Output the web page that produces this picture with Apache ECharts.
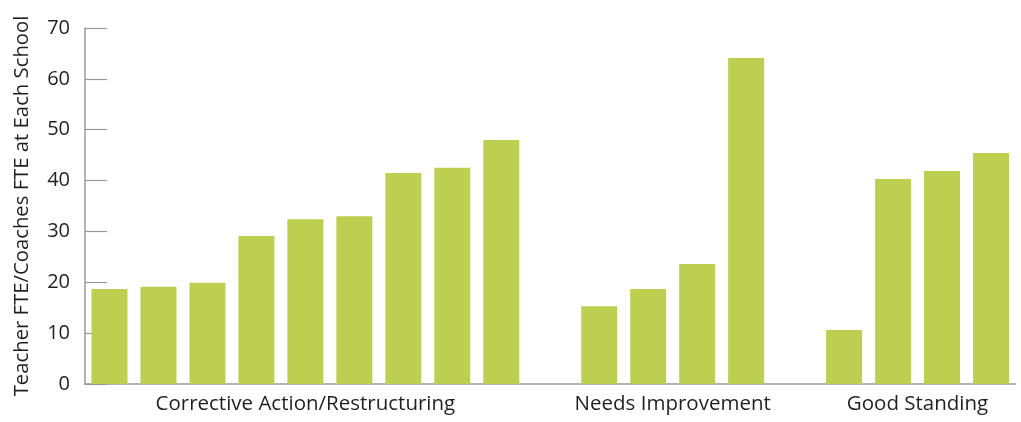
<!DOCTYPE html>
<html>
<head>
<meta charset="utf-8">
<script src="https://cdn.jsdelivr.net/npm/echarts@6/dist/echarts.min.js"></script>
<style>html,body{margin:0;padding:0;background:#fff}#chart{width:1021px;height:422px}</style>
</head>
<body>
<div id="chart"></div>
<script>
const groupLabels = ['Corrective Action/Restructuring', 'Needs Improvement', 'Good Standing'];
const correctiveValues = [18.7, 19.1, 19.9, 29.1, 32.4, 33.0, 41.5, 42.5, 48.0];
const needsValues = [15.3, 18.7, 23.6, 64.1];
const goodValues = [10.6, 40.3, 41.9, 45.4];
const yTicks = [0, 10, 20, 30, 40, 50, 60, 70];
const yTitle = 'Teacher FTE/Coaches FTE at Each School';

const groups = [correctiveValues, needsValues, goodValues];
const slots = [];
const values = [];
const centers = [];
groups.forEach((g, gi) => {
  if (gi > 0) { slots.push('gap' + gi); values.push('-'); }
  const start = slots.length;
  g.forEach((v, i) => { slots.push(groupLabels[gi] + ' ' + (i + 1)); values.push(v); });
  centers.push(start + g.length / 2);
});

const font = '"Open Sans", Lato, sans-serif';
const chart = echarts.init(document.getElementById('chart'));
chart.setOption({
  animation: false,
  grid: { left: 85, right: 5.5, top: 28, bottom: 38, containLabel: false },
  xAxis: [{
    type: 'category',
    data: slots,
    axisLine: { show: true, lineStyle: { color: '#9a9a9a', width: 1.5 } },
    axisTick: { show: false },
    axisLabel: { show: false },
    splitLine: { show: false }
  }, {
    type: 'value',
    position: 'bottom',
    min: 0,
    max: slots.length,
    axisLine: { show: false },
    axisTick: { show: false },
    splitLine: { show: false },
    axisLabel: {
      show: true,
      customValues: centers,
      margin: 10,
      color: '#231f20',
      fontFamily: font,
      fontSize: 20.5,
      formatter: function (v) {
        const i = centers.findIndex(c => Math.abs(c - v) < 1e-6);
        return i >= 0 ? groupLabels[i] : '';
      }
    }
  }],
  yAxis: {
    type: 'value',
    min: yTicks[0],
    max: yTicks[yTicks.length - 1],
    interval: 10,
    name: yTitle,
    nameLocation: 'middle',
    nameGap: 53,
    nameTextStyle: { color: '#231f20', fontFamily: font, fontSize: 20.3 },
    axisLine: { show: true, lineStyle: { color: '#9a9a9a', width: 1.5 } },
    axisTick: { show: true, inside: true, length: 22, lineStyle: { color: '#9a9a9a', width: 1.2 } },
    axisLabel: { color: '#231f20', fontFamily: font, fontSize: 20, margin: 15 },
    splitLine: { show: false }
  },
  series: [{
    type: 'bar',
    data: values,
    xAxisIndex: 0,
    barCategoryGap: '26.5%',
    itemStyle: { color: '#bdcf50' }
  }]
});
</script>
</body>
</html>
